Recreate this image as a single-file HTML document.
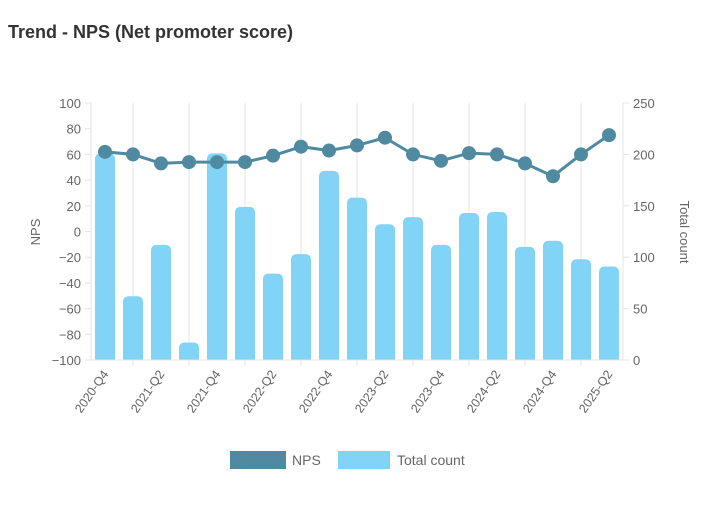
<!DOCTYPE html>
<html><head><meta charset="utf-8"><style>
body{margin:0;background:#fff;font-family:"Liberation Sans",Arial,sans-serif;}
#wrap{position:relative;width:720px;height:500px;}
</style></head><body>
<div id="wrap">
<svg id="chart" width="720" height="500" xmlns="http://www.w3.org/2000/svg">
<text x="8" y="38" font-size="18" font-weight="bold" fill="#333" font-family="Liberation Sans, sans-serif">Trend - NPS (Net promoter score)</text>
<g id="grid"></g><g id="bars"></g><g id="line"></g><g id="axes"></g>
<text transform="translate(40,232) rotate(-90)" text-anchor="middle" font-size="13" fill="#666">NPS</text>
<text transform="translate(680,232) rotate(90)" text-anchor="middle" font-size="13" fill="#666">Total count</text>
<rect x="230" y="451" width="56" height="18" fill="#4f8aa1"/>
<text x="292" y="465" font-size="14" fill="#666">NPS</text>
<rect x="338" y="451" width="52" height="18" fill="#81d4f6"/>
<text x="397" y="465" font-size="14" fill="#666">Total count</text>
</svg>
</div>
<script>
const categories=["2020-Q4","2021-Q1","2021-Q2","2021-Q3","2021-Q4","2022-Q1","2022-Q2","2022-Q3","2022-Q4","2023-Q1","2023-Q2","2023-Q3","2023-Q4","2024-Q1","2024-Q2","2024-Q3","2024-Q4","2025-Q1","2025-Q2"];
const npsValues=[62,60,53,54,54,54,59,66,63,67,73,60,55,61,60,53,43,60,75];
const countValues=[201,62,112,17,201,149,84,103,184,158,132,139,112,143,144,110,116,98,91];
const leftTicks=[-100,-80,-60,-40,-20,0,20,40,60,80,100];
const rightTicks=[0,50,100,150,200,250];
const NS="http://www.w3.org/2000/svg";
const L=91,R=623,T=103,B=360;
const step=(R-L)/categories.length;
const xC=i=>L+step*(i+0.5);
const yL=v=>B-(v+100)/200*(B-T);
const yR=v=>B-v/250*(B-T);
function mk(tag,attrs,parent){const e=document.createElementNS(NS,tag);for(const k in attrs)e.setAttribute(k,attrs[k]);parent.appendChild(e);return e;}
const grid=document.getElementById('grid'),bars=document.getElementById('bars'),line=document.getElementById('line'),axes=document.getElementById('axes');
categories.forEach((c,i)=>{
  if(i%2===1){const g=mk('line',{x1:xC(i),x2:xC(i),y1:T,y2:B+6,stroke:'#e4e4e4','stroke-width':1},grid);
  
  }
});
mk('line',{x1:L,x2:L,y1:T,y2:B,stroke:'#e4e4e4'},axes);
mk('line',{x1:R,x2:R,y1:T,y2:B,stroke:'#e4e4e4'},axes);
mk('line',{x1:L-6,x2:R+6,y1:B,y2:B,stroke:'#e4e4e4'},axes);
leftTicks.forEach(v=>{
  mk('line',{x1:L-6,x2:L,y1:yL(v),y2:yL(v),stroke:'#e4e4e4'},axes);
  const t=mk('text',{x:L-10,y:yL(v)+5,'text-anchor':'end','font-size':13,fill:'#666'},axes);
  t.textContent=String(v).replace('-','\u2212');
  
  
});
rightTicks.forEach(v=>{
  mk('line',{x1:R,x2:R+6,y1:yR(v),y2:yR(v),stroke:'#e4e4e4'},axes);
  const t=mk('text',{x:R+10,y:yR(v)+5,'font-size':13,fill:'#666'},axes);
  t.textContent=v;
  
  
});
countValues.forEach((v,i)=>{
  const w=20,x=xC(i)-w/2,y=yR(v),h=B-y,r=Math.min(6,h/2);
  const p=mk('path',{d:`M${x},${B}V${y+r}Q${x},${y} ${x+r},${y}H${x+w-r}Q${x+w},${y} ${x+w},${y+r}V${B}Z`,fill:'#81d4f6'},bars);
  
  
});
const pl=mk('polyline',{points:npsValues.map((v,i)=>xC(i)+','+yL(v)).join(' '),fill:'none',stroke:'#4f8aa1','stroke-width':3},line);


npsValues.forEach((v,i)=>{
  const c=mk('circle',{cx:xC(i),cy:yL(v),r:7,fill:'#4f8aa1'},line);
  
  
});
categories.forEach((c,i)=>{
  if(i%2===0){const t=mk('text',{transform:`translate(${xC(i)+4},${B+14}) rotate(-55)`,'text-anchor':'end','font-size':12.5,fill:'#666'},axes);
  t.textContent=c;
  
  }
});
</script>
</body></html>
